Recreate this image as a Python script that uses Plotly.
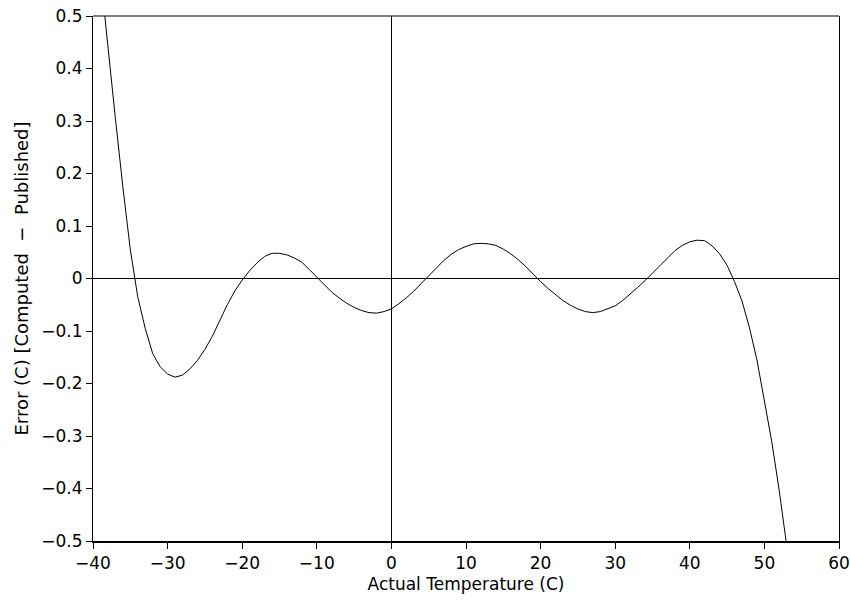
import plotly.graph_objects as go

temperature = [-39, -38, -37, -36, -35, -34, -33, -32, -31, -30, -29, -28, -27, -26, -25, -24, -23, -22, -21, -20,
               -19, -18, -17, -16, -15, -14, -13, -12, -11, -10, -9, -8, -7, -6, -5, -4, -3, -2, -1, 0,
               1, 2, 3, 4, 5, 6, 7, 8, 9, 10, 11, 12, 13, 14, 15, 16, 17, 18, 19, 20,
               21, 22, 23, 24, 25, 26, 27, 28, 29, 30, 31, 32, 33, 34, 35, 36, 37, 38, 39, 40,
               41, 42, 43, 44, 45, 46, 47, 48, 49, 50, 51, 52, 53]
error = [0.58, 0.44, 0.305, 0.175, 0.055, -0.035, -0.095, -0.143, -0.168, -0.182, -0.188, -0.184, -0.172, -0.156, -0.135, -0.110, -0.080, -0.050, -0.024, -0.003,
         0.015, 0.030, 0.042, 0.048, 0.048, 0.045, 0.039, 0.031, 0.017, 0.002, -0.013, -0.026, -0.037, -0.047, -0.055, -0.061, -0.065, -0.066, -0.063, -0.058,
         -0.048, -0.037, -0.024, -0.009, 0.005, 0.020, 0.034, 0.046, 0.055, 0.061, 0.066, 0.067, 0.066, 0.063, 0.056, 0.047, 0.036, 0.023, 0.008, -0.006,
         -0.019, -0.031, -0.042, -0.051, -0.058, -0.063, -0.065, -0.063, -0.058, -0.052, -0.042, -0.030, -0.017, -0.004, 0.010, 0.026, 0.040, 0.053, 0.063, 0.070,
         0.073, 0.072, 0.062, 0.047, 0.025, -0.006, -0.043, -0.094, -0.155, -0.232, -0.312, -0.405, -0.51]

x_ticks = [-40, -30, -20, -10, 0, 10, 20, 30, 40, 50, 60]
x_tick_labels = ["\u221240", "\u221230", "\u221220", "\u221210", "0", "10", "20", "30", "40", "50", "60"]
y_ticks = [-0.5, -0.4, -0.3, -0.2, -0.1, 0, 0.1, 0.2, 0.3, 0.4, 0.5]
y_tick_labels = ["\u22120.5", "\u22120.4", "\u22120.3", "\u22120.2", "\u22120.1", "0", "0.1", "0.2", "0.3", "0.4", "0.5"]

font = "DejaVu Sans"

fig = go.Figure()
fig.add_trace(go.Scatter(x=temperature, y=error, mode="lines",
                         line=dict(color="black", width=1), showlegend=False))

fig.update_layout(
    width=850, height=601,
    margin=dict(l=93, r=11, t=16, b=60),
    paper_bgcolor="white", plot_bgcolor="white",
    font=dict(family=font, size=17, color="black"),
    xaxis=dict(range=[-40, 60], tickvals=x_ticks, ticktext=x_tick_labels, automargin=False,
               showgrid=False, zeroline=True, zerolinecolor="black", zerolinewidth=1,
               showline=True, linecolor="black", linewidth=2, mirror=False,
               ticks="outside", ticklen=6, tickcolor="black", tickwidth=1,
               title=dict(text="Actual Temperature (C)", font=dict(size=17), standoff=6)),
    yaxis=dict(range=[-0.5, 0.5], tickvals=y_ticks, ticktext=y_tick_labels, automargin=False,
               showgrid=False, zeroline=True, zerolinecolor="black", zerolinewidth=1,
               showline=True, linecolor="black", linewidth=1, mirror=True,
               ticks="outside", ticklen=6, tickcolor="black", tickwidth=1,
               title=dict(text="Error (C) [Computed  \u2212  Published]", font=dict(size=18), standoff=8)),
    shapes=[dict(type="line", xref="paper", yref="paper", x0=0, x1=1, y0=1, y1=1,
                 line=dict(color="black", width=1))],
)

fig.write_html("out.html", config={"displayModeBar": False},
               post_script="document.body.style.margin='0';document.body.style.overflow='hidden';")
